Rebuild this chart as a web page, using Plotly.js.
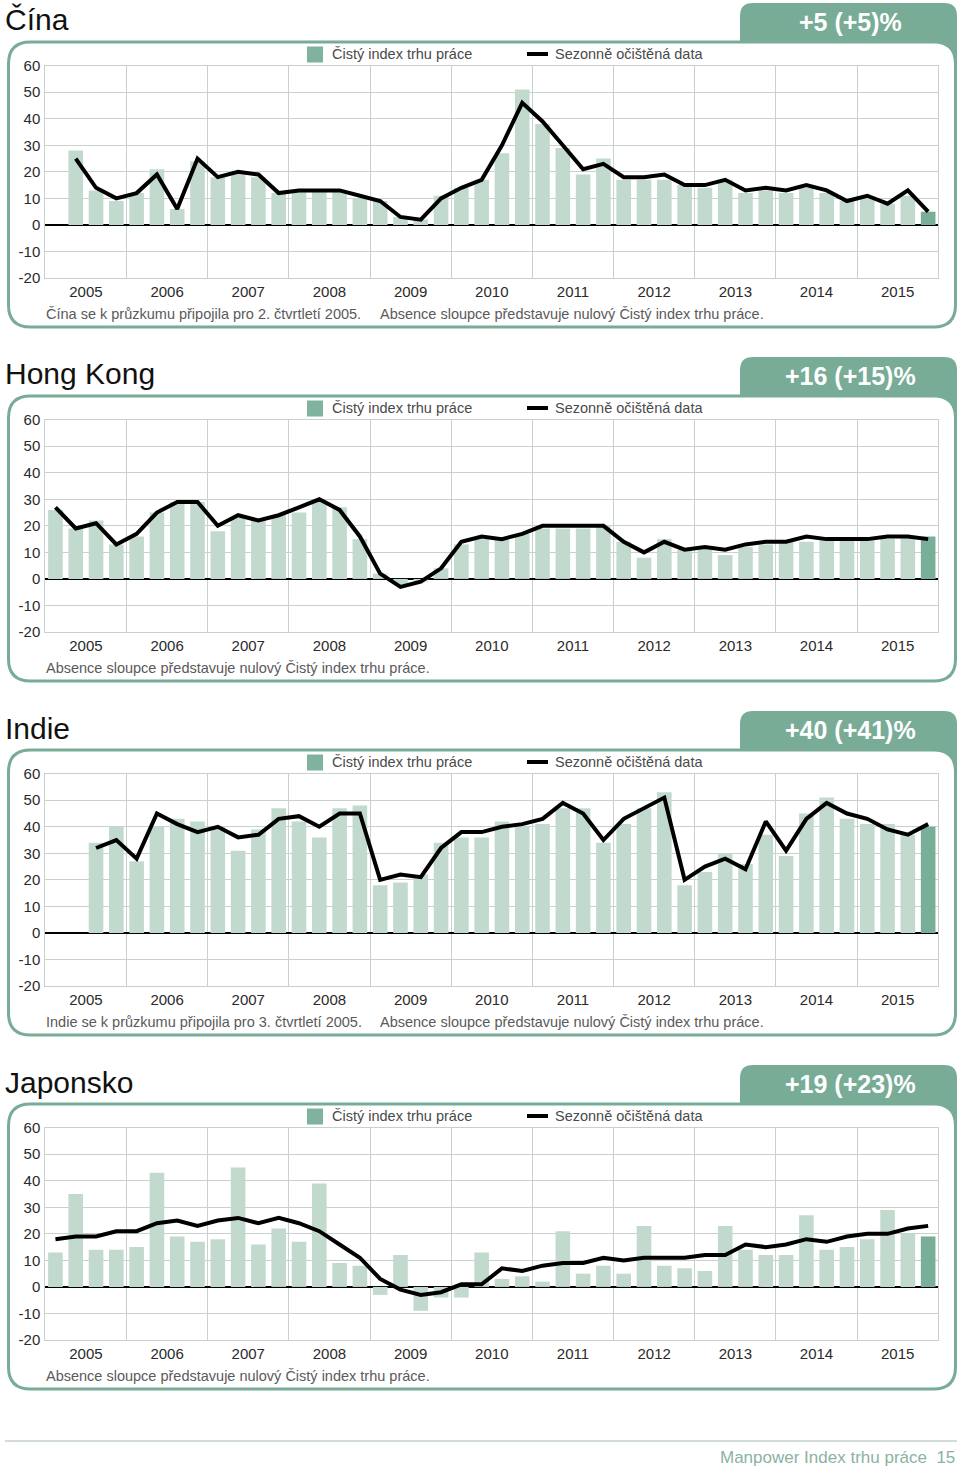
<!DOCTYPE html>
<html>
<head>
<meta charset="utf-8">
<script src="https://cdn.plot.ly/plotly-3.0.1.min.js"></script>
<style>
html,body{margin:0;padding:0;background:#fff;}
#chart{width:960px;height:1469px;}
</style>
</head>
<body>
<div id="chart"></div>
<script>
// ---------- DATA ----------
const years = ["2005","2006","2007","2008","2009","2010","2011","2012","2013","2014","2015"];
const yTickVals = [-20, -10, 0, 10, 20, 30, 40, 50, 60];
const yTickText = ["-20", "-10", "0", "10", "20", "30", "40", "50", "60"];
const countries = ["Čína", "Hong Kong", "Indie", "Japonsko"];
const outlooks = ["+5 (+5)%", "+16 (+15)%", "+40 (+41)%", "+19 (+23)%"];
const joinNotes = ["Čína se k průzkumu připojila pro 2. čtvrtletí 2005.", null, "Indie se k průzkumu připojila pro 3. čtvrtletí 2005.", null];
const absenceNote = "Absence sloupce představuje nulový Čistý index trhu práce.";
const legendBarLabel = "Čistý index trhu práce";
const legendLineLabel = "Sezonně očištěná data";
const footerText = "Manpower Index trhu práce  15";

const chinaBars = [null,28,13,9, 12,21,6,24, 18,20,18,12, 13,13,13,10, 9,3,2,11, 14,17,27,51, 38,29,19,25, 17,17,17,15, 14,17,12,13, 12,14,12,9, 10,8,11,5];
const chinaSA   = [null,25,14,10, 12,19,6,25, 18,20,19,12, 13,13,13,11, 9,3,2,10, 14,17,30,46, 39,30,21,23, 18,18,19,15, 15,17,13,14, 13,15,13,9, 11,8,13,5];

const hkBars = [26,19,22,13, 16,25,29,29, 18,23,22,24, 25,29,27,15, 2,-2,-1,4, 13,15,15,17, 19,19,19,20, 14,8,15,11, 12,9,12,13, 14,14,15,15, 15,15,16,16];
const hkSA   = [27,19,21,13, 17,25,29,29, 20,24,22,24, 27,30,26,16, 2,-3,-1,4, 14,16,15,17, 20,20,20,20, 14,10,14,11, 12,11,13,14, 14,16,15,15, 15,16,16,15];

const indiaBars = [null,null,34,40, 27,40,43,42, 40,31,39,47, 42,36,47,48, 18,19,22,34, 36,36,42,40, 41,47,47,34, 41,47,53,18, 23,30,26,37, 29,45,51,43, 41,41,37,40];
const indiaSA   = [null,null,32,35, 28,45,41,38, 40,36,37,43, 44,40,45,45, 20,22,21,32, 38,38,40,41, 43,49,45,35, 43,47,51,20, 25,28,24,42, 31,43,49,45, 43,39,37,41];

const japanBars = [13,35,14,14, 15,43,19,17, 18,45,16,22, 17,39,9,8, -3,12,-9,-4, -4,13,3,4, 2,21,5,8, 5,23,8,7, 6,23,14,12, 12,27,14,15, 18,29,20,19];
const japanSA   = [18,19,19,21, 21,24,25,23, 25,26,24,26, 24,21,16,11, 3,-1,-3,-2, 1,1,7,6, 8,9,9,11, 10,11,11,11, 12,12,16,15, 16,18,17,19, 20,20,22,23];

const barSeries = [chinaBars, hkBars, indiaBars, japanBars];
const lineSeries = [chinaSA, hkSA, indiaSA, japanSA];

// ---------- STYLE ----------
const W = 960, H = 1469;
const FONT = '"Liberation Sans", Arial, Helvetica, sans-serif';
const TEAL = '#78ac97';
const BAR_LIGHT = '#c2dace';
const BAR_DARK = '#79ae98';
const GRID = '#c9d1ce';
const STEP = 354;
const PX = x => x / W;
const PY = y => 1 - y / H;

const quarters = chinaBars.map((_, i) => i);
const yearPos = years.map((_, i) => i * 4 + 1.5);

const data = [];
const layout = {
  width: W, height: H,
  margin: {l: 0, r: 0, t: 0, b: 0},
  paper_bgcolor: '#ffffff',
  plot_bgcolor: 'rgba(0,0,0,0)',
  showlegend: false,
  font: {family: FONT, color: '#333'},
  shapes: [], annotations: []
};

function roundRect(x0, y0, x1, y1, r) {
  return `M ${PX(x0 + r)},${PY(y0)} L ${PX(x1 - r)},${PY(y0)} Q ${PX(x1)},${PY(y0)} ${PX(x1)},${PY(y0 + r)} ` +
         `L ${PX(x1)},${PY(y1 - r)} Q ${PX(x1)},${PY(y1)} ${PX(x1 - r)},${PY(y1)} ` +
         `L ${PX(x0 + r)},${PY(y1)} Q ${PX(x0)},${PY(y1)} ${PX(x0)},${PY(y1 - r)} ` +
         `L ${PX(x0)},${PY(y0 + r)} Q ${PX(x0)},${PY(y0)} ${PX(x0 + r)},${PY(y0)} Z`;
}
function tabPath(x0, y0, x1, y1, r) {
  return `M ${PX(x0)},${PY(y1)} L ${PX(x0)},${PY(y0 + r)} Q ${PX(x0)},${PY(y0)} ${PX(x0 + r)},${PY(y0)} ` +
         `L ${PX(x1 - r)},${PY(y0)} Q ${PX(x1)},${PY(y0)} ${PX(x1)},${PY(y0 + r)} L ${PX(x1)},${PY(y1)} Z`;
}

for (let p = 0; p < 4; p++) {
  const o = p * STEP;
  const n = p === 0 ? '' : String(p + 1);
  const bars = barSeries[p];
  const colors = bars.map((_, i) => i === bars.length - 1 ? BAR_DARK : BAR_LIGHT);

  data.push({
    type: 'bar', x: quarters, y: bars, width: 0.72,
    marker: {color: colors, line: {width: 0}},
    xaxis: 'x' + n, yaxis: 'y' + n, hoverinfo: 'y'
  });
  data.push({
    type: 'scatter', mode: 'lines', x: quarters, y: lineSeries[p],
    line: {color: '#000', width: 4, shape: 'linear'},
    connectgaps: false,
    xaxis: 'x' + n, yaxis: 'y' + n, hoverinfo: 'y'
  });

  layout['xaxis' + n] = {
    domain: [PX(45.3), PX(938.3)],
    anchor: 'y' + n,
    range: [-0.5, 43.5],
    tickmode: 'array', tickvals: yearPos, ticktext: years,
    showgrid: false, zeroline: false, ticks: '',
    showline: true, mirror: true, linecolor: GRID, linewidth: 1,
    minor: {tickmode: 'linear', tick0: -0.5, dtick: 4, showgrid: true, gridcolor: GRID, gridwidth: 1, ticks: ''},
    tickfont: {family: FONT, size: 15, color: '#2a2a2a'},
    ticklabelstandoff: 0,
    fixedrange: true
  };
  layout['yaxis' + n] = {
    domain: [PY(278 + o), PY(65.7 + o)],
    anchor: 'x' + n,
    range: [-20, 60], tickmode: 'array', tickvals: yTickVals, ticktext: yTickText,
    showgrid: true, gridcolor: GRID, gridwidth: 1,
    zeroline: true, zerolinecolor: '#000', zerolinewidth: 2,
    showline: true, mirror: true, linecolor: GRID, linewidth: 1,
    ticks: '',
    tickfont: {family: FONT, size: 15, color: '#2a2a2a'},
    ticklabelstandoff: 1,
    fixedrange: true
  };

  // tab and panel frame
  layout.shapes.push({type: 'path', xref: 'paper', yref: 'paper', layer: 'below',
    path: tabPath(740, 3 + o, 957, 90 + o, 13), fillcolor: TEAL, line: {width: 0}});
  layout.shapes.push({type: 'path', xref: 'paper', yref: 'paper', layer: 'below',
    path: roundRect(8.5, 42 + o, 955.5, 327 + o, 22), fillcolor: '#ffffff', line: {color: TEAL, width: 3}});

  // legend symbols
  layout.shapes.push({type: 'rect', xref: 'paper', yref: 'paper', layer: 'above',
    x0: PX(307), x1: PX(323), y0: PY(62.5 + o), y1: PY(46.5 + o), fillcolor: '#7fb39e', line: {width: 0}});
  layout.shapes.push({type: 'line', xref: 'paper', yref: 'paper', layer: 'above',
    x0: PX(527), x1: PX(548), y0: PY(54 + o), y1: PY(54 + o), line: {color: '#000', width: 4}});

  const ann = (text, x, y, opts) => Object.assign({
    text, x: PX(x), y: PY(y), xref: 'paper', yref: 'paper', showarrow: false,
    xanchor: 'left', yanchor: 'middle', font: {family: FONT, size: 14.5, color: '#4a4a4a'}
  }, opts || {});

  layout.annotations.push(ann(countries[p], 3, 20 + o, {font: {family: FONT, size: 30, color: '#111'}}));
  layout.annotations.push(ann('<b>' + outlooks[p] + '</b>', 850, 22 + o, {xanchor: 'center', font: {family: FONT, size: 25, color: '#ffffff'}}));
  layout.annotations.push(ann(legendBarLabel, 330, 54 + o));
  layout.annotations.push(ann(legendLineLabel, 553, 54 + o));
  if (joinNotes[p]) {
    layout.annotations.push(ann(joinNotes[p], 44, 313.5 + o, {font: {family: FONT, size: 14.5, color: '#5a5a5a'}}));
    layout.annotations.push(ann(absenceNote, 378, 313.5 + o, {font: {family: FONT, size: 14.5, color: '#5a5a5a'}}));
  } else {
    layout.annotations.push(ann(absenceNote, 44, 313.5 + o, {font: {family: FONT, size: 14.5, color: '#5a5a5a'}}));
  }
}

// footer
layout.shapes.push({type: 'line', xref: 'paper', yref: 'paper', layer: 'below',
  x0: PX(5), x1: PX(957), y0: PY(1441), y1: PY(1441), line: {color: '#c3d2cc', width: 1.5}});
layout.annotations.push({text: footerText, x: PX(957), y: PY(1457), xref: 'paper', yref: 'paper',
  showarrow: false, xanchor: 'right', yanchor: 'middle', font: {family: FONT, size: 17, color: '#8ab3a3'}});

Plotly.newPlot('chart', data, layout, {displayModeBar: false, staticPlot: true});
</script>
</body>
</html>
